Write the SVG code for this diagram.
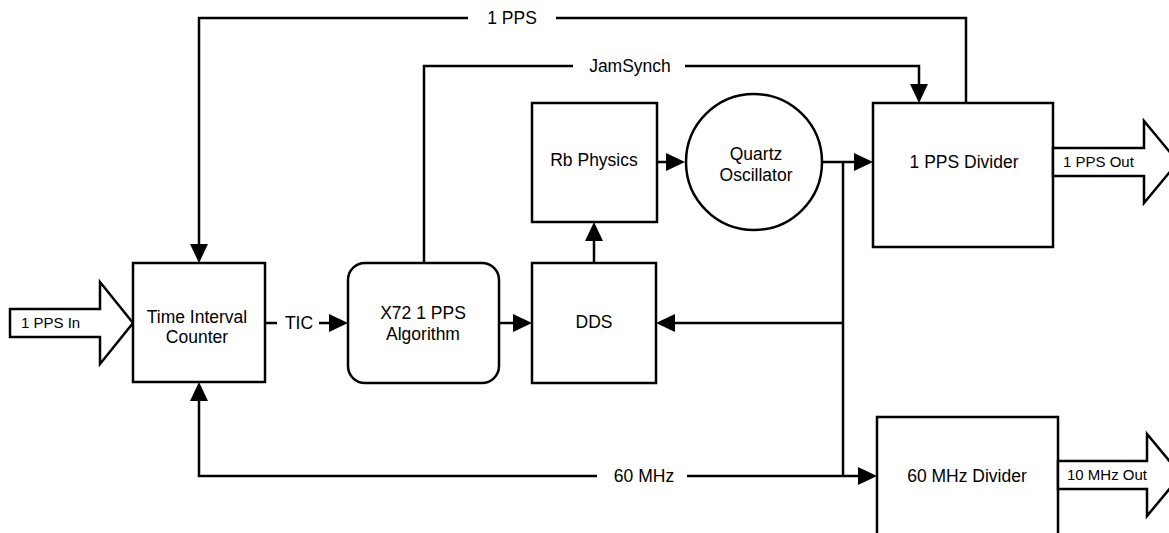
<svg xmlns="http://www.w3.org/2000/svg" width="1169" height="533" viewBox="0 0 1169 533">
<style>
.box{fill:#fff;stroke:#000;stroke-width:2.5}
.ln{fill:none;stroke:#000;stroke-width:2.5}
.t{font-family:"Liberation Sans",Arial,sans-serif;font-size:17.5px;fill:#000;text-anchor:middle}
.s{font-family:"Liberation Sans",Arial,sans-serif;font-size:15px;fill:#000}
</style>
<defs>
<marker id="ah" viewBox="0 0 19 18" refX="11" refY="9" markerWidth="19" markerHeight="18" markerUnits="userSpaceOnUse" orient="auto">
<path d="M0,0 L19,9 L0,18 z" fill="#000"/>
</marker>
</defs>
<rect width="1169" height="533" fill="#fff"/>
<g id="connectors">
<path class="ln" d="M966,103 V18 H556"/>
<path class="ln" d="M468,18 H199 V255" marker-end="url(#ah)"/>
<text class="t" x="512" y="24">1 PPS</text>
<path class="ln" d="M424,263 V66 H573"/>
<path class="ln" d="M685,66 H919 V95" marker-end="url(#ah)"/>
<text class="t" x="630" y="72">JamSynch</text>
<path class="ln" d="M265,323 H277"/>
<path class="ln" d="M319,323 H340" marker-end="url(#ah)"/>
<text class="t" x="299" y="329">TIC</text>
<path class="ln" d="M499,323 H524" marker-end="url(#ah)"/>
<path class="ln" d="M594,263 V230" marker-end="url(#ah)"/>
<path class="ln" d="M657,162 H677" marker-end="url(#ah)"/>
<path class="ln" d="M822,162 H865" marker-end="url(#ah)"/>
<path class="ln" d="M843,162 V476"/>
<path class="ln" d="M843,323 H664" marker-end="url(#ah)"/>
<path class="ln" d="M597,476 H199 V390" marker-end="url(#ah)"/>
<path class="ln" d="M687,476 H869" marker-end="url(#ah)"/>
<text class="t" x="644" y="482">60 MHz</text>
</g>
<g id="in1pps">
<polygon class="box" points="10,309 100,309 100,282 133,323 100,364 100,337 10,337"/>
<text class="s" x="21" y="328">1 PPS In</text>
</g>
<g id="tic">
<rect class="box" x="133" y="263" width="132" height="119"/>
<text class="t" x="197" y="323">Time Interval</text>
<text class="t" x="197" y="343">Counter</text>
</g>
<g id="x72">
<rect class="box" x="348" y="263" width="151" height="120" rx="17" ry="17"/>
<text class="t" x="423" y="319">X72 1 PPS</text>
<text class="t" x="423" y="340">Algorithm</text>
</g>
<g id="dds">
<rect class="box" x="532" y="263" width="124" height="120"/>
<text class="t" x="594" y="328">DDS</text>
</g>
<g id="rb">
<rect class="box" x="532" y="103" width="125" height="119"/>
<text class="t" x="594" y="166">Rb Physics</text>
</g>
<g id="quartz">
<circle class="box" cx="754" cy="162" r="68"/>
<text class="t" x="756" y="160">Quartz</text>
<text class="t" x="756" y="181">Oscillator</text>
</g>
<g id="div1pps">
<rect class="box" x="873" y="103" width="180" height="144"/>
<text class="t" x="964" y="168">1 PPS Divider</text>
</g>
<g id="out1pps">
<polygon class="box" points="1053,148 1144,148 1144,121 1178,162 1144,203 1144,176 1053,176"/>
<text class="s" x="1063" y="167">1 PPS Out</text>
</g>
<g id="div60">
<rect class="box" x="877" y="417" width="181" height="130"/>
<text class="t" x="967" y="482">60 MHz Divider</text>
</g>
<g id="out10">
<polygon class="box" points="1058,461 1147,461 1147,434 1181,475 1147,516 1147,489 1058,489"/>
<text class="s" x="1067" y="480">10 MHz Out</text>
</g>
</svg>
